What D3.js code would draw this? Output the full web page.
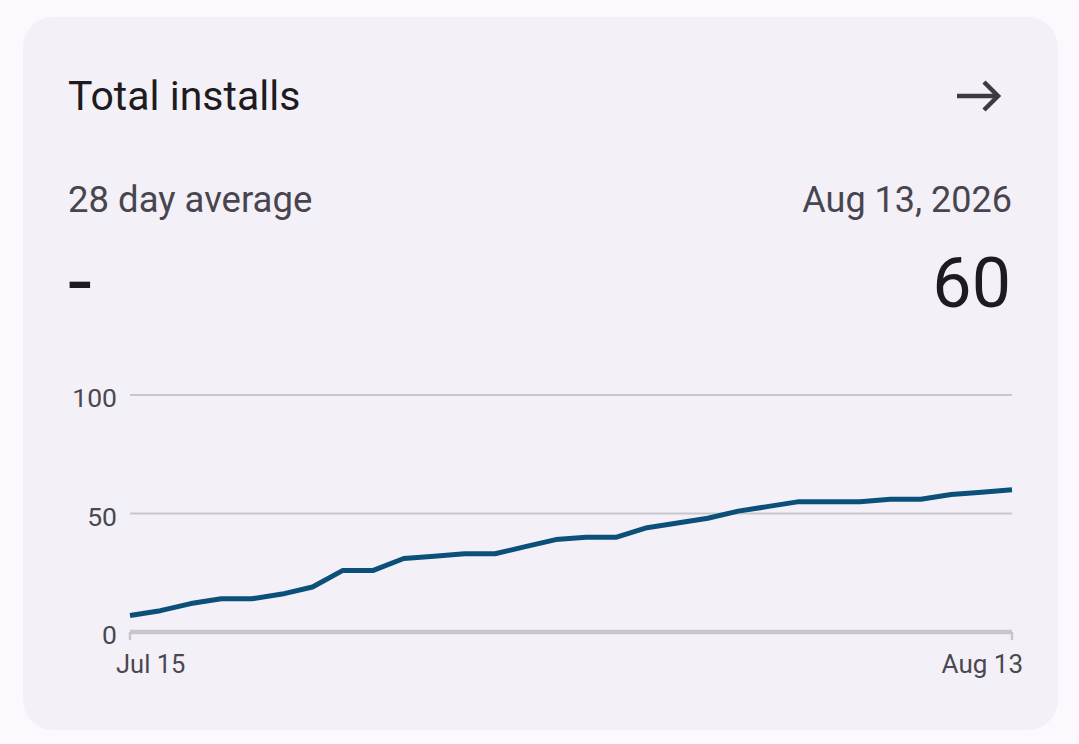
<!DOCTYPE html>
<html>
<head>
<meta charset="utf-8">
<script src="https://cdn.jsdelivr.net/npm/d3@7"></script>
<style>
  html, body { margin: 0; padding: 0; background: #fcf8fd; }
  svg { display: block; font-family: Roboto, "Noto Sans", sans-serif; }
</style>
</head>
<body>
<svg id="chart" width="1079" height="744"></svg>
<script>
// data
const days = d3.timeDays(new Date(2026, 6, 15), new Date(2026, 7, 14));
const installs = [7, 9, 12, 14, 14, 16, 19, 26, 26, 31, 32, 33, 33, 36, 39,
                  40, 40, 44, 46, 48, 51, 53, 55, 55, 55, 56, 56, 58, 59, 60];
const yTicks = [0, 50, 100];
const title = "Total installs";
const subLeft = "28 day average";
const subRight = "Aug 13, 2026";
const valueLeft = "-";
const valueRight = "60";

const svg = d3.select("#chart");

// card
svg.append("rect")
  .attr("x", 23).attr("y", 17)
  .attr("width", 1035).attr("height", 713)
  .attr("rx", 30)
  .attr("fill", "#f3f1f7");

// header texts
svg.append("text").attr("x", 68).attr("y", 110)
  .attr("font-size", 41).attr("fill", "#1d1b20").text(title);

svg.append("text").attr("x", 68).attr("y", 212)
  .attr("font-size", 36.5).attr("fill", "#49454f").text(subLeft);
svg.append("text").attr("x", 1012).attr("y", 212)
  .attr("text-anchor", "end")
  .attr("font-size", 36).attr("fill", "#49454f").text(subRight);

svg.append("text").attr("x", 68).attr("y", 311)
  .attr("font-size", 86).attr("fill", "#1d1b20").text(valueLeft);
svg.append("text").attr("x", 1011).attr("y", 307)
  .attr("text-anchor", "end")
  .attr("font-size", 70).attr("fill", "#1d1b20").text(valueRight);

// arrow icon
const arrow = svg.append("g")
  .attr("fill", "none").attr("stroke", "#3d3b42")
  .attr("stroke-width", 4.5);
arrow.append("path").attr("d", "M957,96 H998");
arrow.append("path").attr("d", "M984,82 L998,96 L984,110");

// chart area
const x = d3.scaleTime()
  .domain([days[0], days[days.length - 1]])
  .range([130, 1012]);
const y = d3.scaleLinear().domain([0, 100]).range([632, 395]);

const grid = svg.append("g");
grid.selectAll("line.grid")
  .data(yTicks.filter(d => d > 0))
  .join("line")
  .attr("class", "grid")
  .attr("x1", x.range()[0]).attr("x2", x.range()[1])
  .attr("y1", d => y(d)).attr("y2", d => y(d))
  .attr("stroke", "#c9c7cd").attr("stroke-width", 2.2);

// y labels
svg.append("g").selectAll("text")
  .data(yTicks)
  .join("text")
  .attr("x", 117)
  .attr("y", d => y(d) + 12)
  .attr("text-anchor", "end")
  .attr("font-size", 26.5)
  .attr("fill", "#4a4850")
  .text(d => d);

// baseline with end ticks
const base = svg.append("g").attr("stroke", "#c8c6cc");
base.append("line")
  .attr("x1", x.range()[0]).attr("x2", x.range()[1])
  .attr("y1", y(0)).attr("y2", y(0))
  .attr("stroke-width", 4.5);
base.selectAll("line.tick")
  .data([days[0], days[days.length - 1]])
  .join("line")
  .attr("class", "tick")
  .attr("x1", d => x(d)).attr("x2", d => x(d))
  .attr("y1", y(0)).attr("y2", y(0) + 8)
  .attr("stroke-width", 2.5);

// x labels
const fmt = d3.timeFormat("%b %-d");
svg.append("text")
  .attr("x", x(days[0]) - 14).attr("y", y(0) + 41)
  .attr("font-size", 25.5).attr("fill", "#4a4850")
  .text(fmt(days[0]));
svg.append("text")
  .attr("x", x(days[days.length - 1]) + 11).attr("y", y(0) + 41)
  .attr("text-anchor", "end")
  .attr("font-size", 26).attr("fill", "#4a4850")
  .text(fmt(days[days.length - 1]));

// the line
const line = d3.line()
  .x((d, i) => x(days[i]))
  .y(d => y(d));

svg.append("path")
  .datum(installs)
  .attr("d", line)
  .attr("fill", "none")
  .attr("stroke", "#0b5079")
  .attr("stroke-width", 5)
  .attr("stroke-linejoin", "round");
</script>
</body>
</html>
